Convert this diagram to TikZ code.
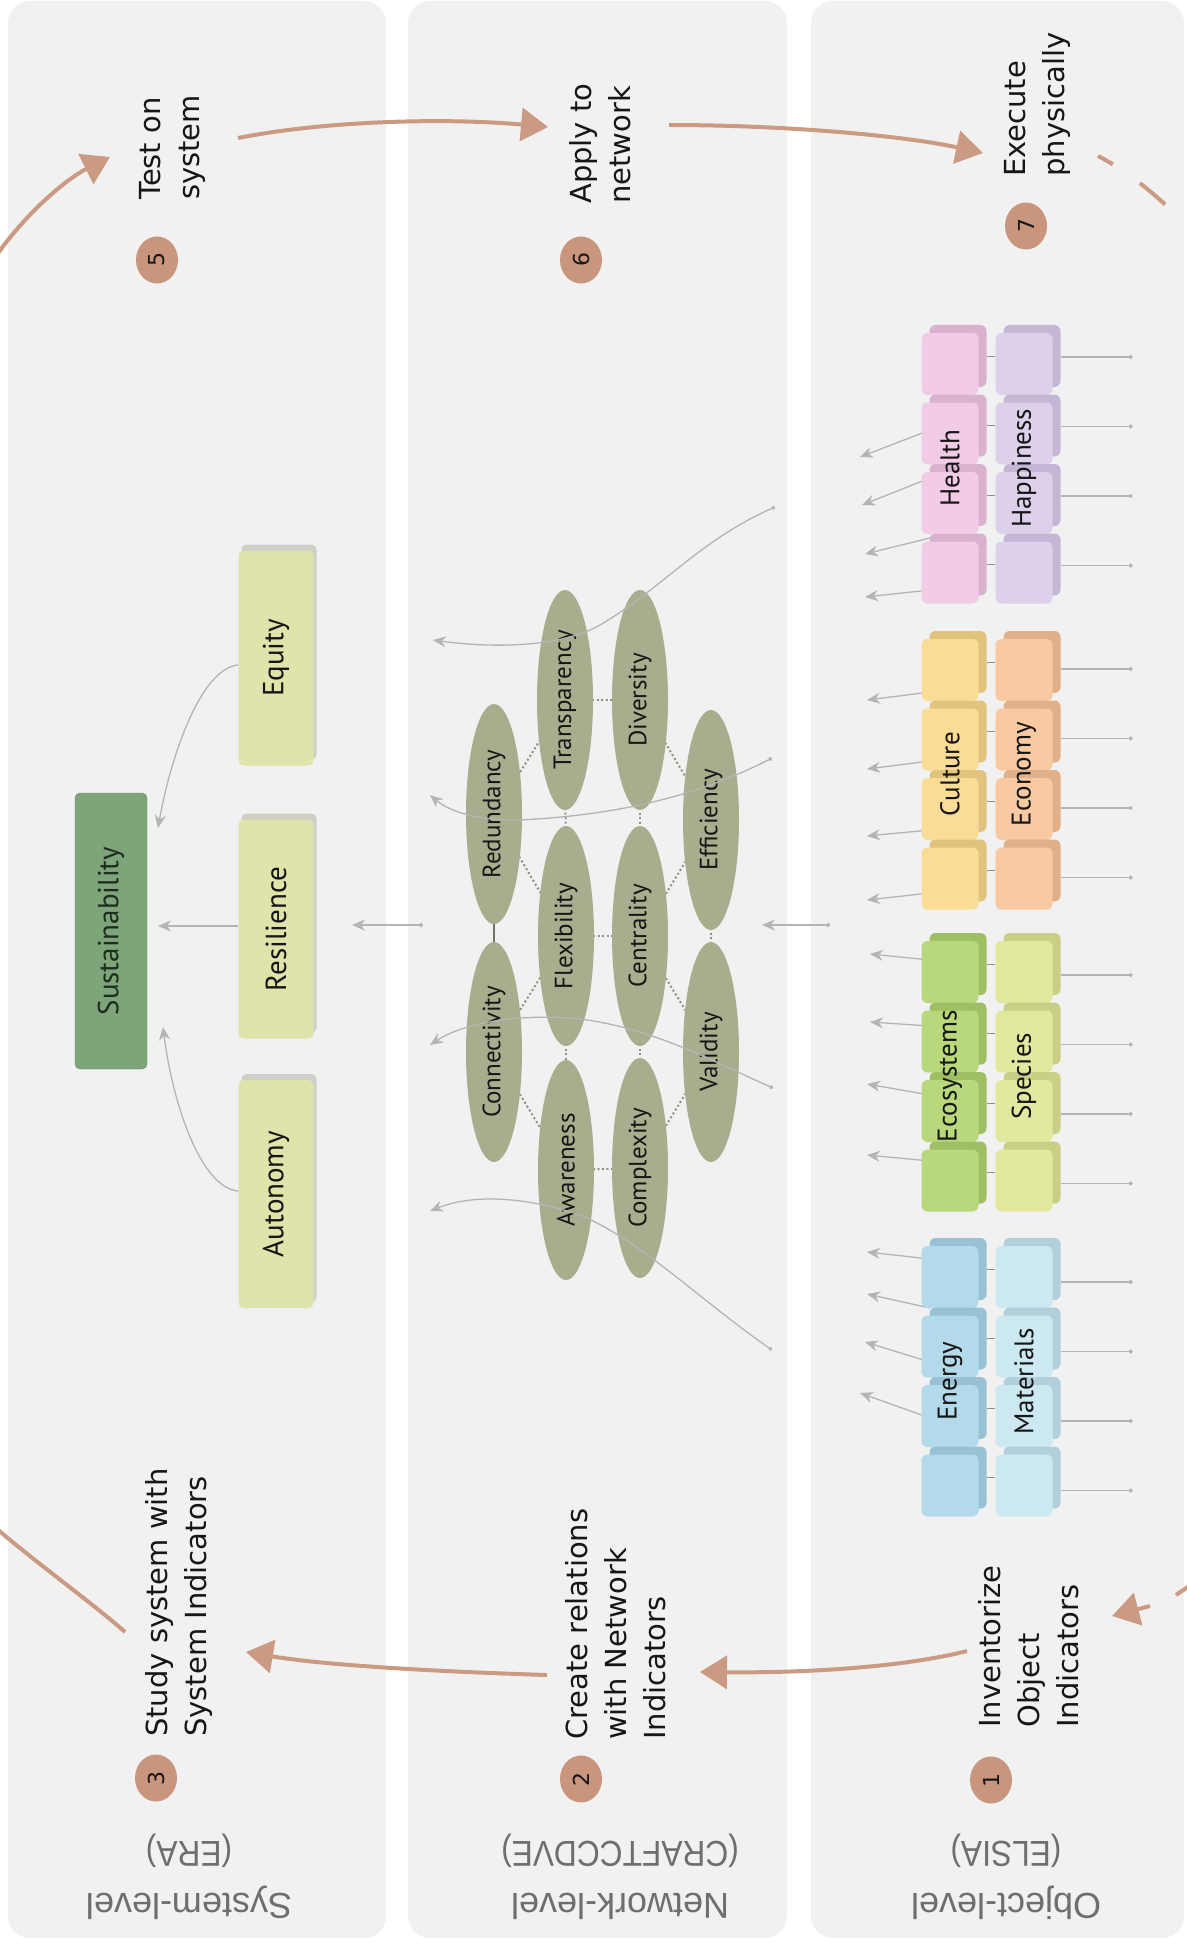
\documentclass[tikz,border=0pt]{standalone}
\usepackage{fontspec}
\setmainfont{DejaVu Sans}
\newfontfamily\lblfont{PT Sans}
\newfontfamily\levfont{Liberation Sans}
\newfontfamily\levcfont{Liberation Sans}[FakeStretch=0.88]
\usetikzlibrary{shapes.geometric,arrows.meta,shadows}
\definecolor{panelbg}{HTML}{F1F1F1}
\definecolor{stepbrown}{HTML}{C9957D}
\definecolor{arrowbrown}{HTML}{CA9A82}
\definecolor{stepink}{HTML}{161616}
\definecolor{levink}{HTML}{6E6E6E}
\definecolor{lgray}{HTML}{B4B4B4}
\definecolor{dotgray}{HTML}{8E917E}
\definecolor{susfill}{HTML}{7EA479}
\definecolor{susink}{HTML}{1E2E1E}
\definecolor{sysfill}{HTML}{DFE4AA}
\definecolor{sysshadow}{HTML}{CFCFC8}
\definecolor{ellfill}{HTML}{A8AE8D}
\definecolor{lblink}{HTML}{161616}
\definecolor{hlF}{HTML}{F2CBE6}\definecolor{hlB}{HTML}{D9B3CE}
\definecolor{hpF}{HTML}{DDD0EA}\definecolor{hpB}{HTML}{C4B7D6}
\definecolor{cuF}{HTML}{FADC97}\definecolor{cuB}{HTML}{E2C37E}
\definecolor{ecF}{HTML}{F9C9A1}\definecolor{ecB}{HTML}{E1AF88}
\definecolor{esF}{HTML}{B8D87B}\definecolor{esB}{HTML}{9EBF63}
\definecolor{spF}{HTML}{E2E89D}\definecolor{spB}{HTML}{C9CF84}
\definecolor{enF}{HTML}{B2DAEA}\definecolor{enB}{HTML}{98C1D3}
\definecolor{maF}{HTML}{CCE9F2}\definecolor{maB}{HTML}{B2D0DB}
\begin{document}
\begin{tikzpicture}[x=1pt,y=-1pt,
  steptext/.style={rotate=90, anchor=north west, align=left, inner sep=0pt, text=stepink, font=\fontsize{29}{39}\selectfont},
  stepnum/.style={ellipse, fill=stepbrown, minimum width=42pt, minimum height=47pt, inner sep=0pt, text=stepink, font=\fontsize{22}{22}\selectfont},
  bigarrow/.style={draw=arrowbrown, line width=4pt, -{Triangle[length=27pt,width=33pt]}},
  bigline/.style={draw=arrowbrown, line width=4pt},
  garrow/.style={draw=lgray, line width=1.3pt, -{Stealth[length=13pt,width=11pt]}},
  gdotarrow/.style={draw=lgray, line width=1.3pt, {Circle[length=4pt]}-{Stealth[length=13pt,width=11pt]}},
  gdotline/.style={draw=lgray, line width=1.3pt, -{Circle[length=4pt]}},
  gline/.style={draw=lgray!80!black, line width=1pt},
  levlab/.style={rotate=180, align=center, inner sep=0pt, text=levink, font=\levfont\fontsize{36}{52}\selectfont},
  susbox/.style={rectangle, rounded corners=5pt, fill=susfill, draw=susfill!85!black, minimum width=72pt, minimum height=276pt, inner sep=0pt, text=susink, font=\lblfont\fontsize{29}{29}\selectfont},
  sysbox/.style={rectangle, rounded corners=5pt, fill=sysfill, minimum width=75pt, inner sep=0pt, text=lblink, font=\lblfont\fontsize{29}{29}\selectfont, general shadow={fill=sysshadow, shadow xshift=3pt, shadow yshift=6pt}},
  ell/.style={ellipse, fill=ellfill, minimum width=56pt, minimum height=220pt, inner sep=0pt, text=lblink, font=\lblfont\fontsize{25}{25}\selectfont},
  edot/.style={draw=dotgray, line width=2pt, dash pattern=on 2pt off 2.5pt},
  objbox/.style={rectangle, rounded corners=6pt, minimum width=57pt, minimum height=62pt, inner sep=0pt},
  objlab/.style={inner sep=0pt, text=lblink, font=\lblfont\fontsize{27}{27}\selectfont}
]
\useasboundingbox (0,0) rectangle (1186,1950);
\fill[white] (0,0) rectangle (1186,1950);
% panels
\fill[panelbg, rounded corners=22pt] (8,1) rectangle (386,1938);
\fill[panelbg, rounded corners=22pt] (408,1) rectangle (787,1938);
\fill[panelbg, rounded corners=22pt] (811,1) rectangle (1184,1938);

% level labels
\node[levlab] (lv1) at (189,1877) {System-level\\{\levcfont (ERA)}};
\node[levlab] (lv2) at (620,1877) {Network-level\\{\levcfont (CRAFTCCDVE)}};
\node[levlab] (lv3) at (1006,1877) {Object-level\\{\levcfont (ELSIA)}};

% step numbers and texts
\node[stepnum] (n1) at (991,1780) {\rotatebox{90}{1}};
\node[stepnum] (n2) at (581,1779) {\rotatebox{90}{2}};
\node[stepnum] (n3) at (156,1778) {\rotatebox{90}{3}};
\node[stepnum] (n5) at (157,260) {\rotatebox{90}{5}};
\node[stepnum] (n6) at (581,260) {\rotatebox{90}{6}};
\node[stepnum] (n7) at (1026,226) {\rotatebox{90}{7}};
\node[steptext] (t1) at (978,1728) {Inventorize\\Object\\Indicators};
\node[steptext] (t2) at (565,1740) {Create relations\\with Network\\Indicators};
\node[steptext] (t3) at (145,1737) {Study system with\\System Indicators};
\node[steptext] (t5) at (139,200) {Test on\\system};
\node[steptext] (t6) at (569,204) {Apply to\\network};
\node[steptext] (t7) at (1004,177) {Execute\\physically};

% big brown arrows
\coordinate (a1s) at (967,1651); \coordinate (a1e) at (700,1672);
\draw[bigarrow] (a1s) .. controls (900,1668) and (800,1673) .. (a1e);
\coordinate (a2s) at (547,1675); \coordinate (a2e) at (246,1652);
\draw[bigarrow] (a2s) .. controls (450,1672) and (330,1666) .. (a2e);
\coordinate (a3s) at (125,1632); \coordinate (a3e) at (-4,1528);
\draw[bigline] (a3s) .. controls (95,1605) and (35,1562) .. (a3e);
\coordinate (a4s) at (-4,256); \coordinate (a4e) at (110,157);
\draw[bigarrow] (a4s) .. controls (30,208) and (70,177) .. (a4e);
\coordinate (a5s) at (238,138); \coordinate (a5e) at (548,127);
\draw[bigarrow] (a5s) .. controls (330,120) and (450,118) .. (a5e);
\coordinate (a6s) at (669,125); \coordinate (a6e) at (983,153);
\draw[bigarrow] (a6s) .. controls (780,125) and (900,135) .. (a6e);
\coordinate (a7s) at (1098,156); \coordinate (a7e) at (1205,245);
\draw[bigline, dash pattern=on 17pt off 33pt on 33pt off 200pt] (a7s) .. controls (1125,170) and (1160,195) .. (a7e);
\coordinate (a8s) at (1192,1584); \coordinate (a8m) at (1176,1595);
\draw[bigline] (a8s) -- (a8m);
\coordinate (a9s) at (1150,1606); \coordinate (a9e) at (1112,1616);
\draw[bigarrow] (a9s) -- (a9e);

% ---------- System level ----------
\node[susbox] (sus) at (111,931) {\rotatebox{90}{Sustainability}};
\node[sysbox, minimum height=215pt] (equ) at (276,658) {\rotatebox{90}{Equity}};
\node[sysbox, minimum height=219pt] (res) at (276,929) {\rotatebox{90}{Resilience}};
\node[sysbox, minimum height=228pt] (aut) at (276,1194) {\rotatebox{90}{Autonomy}};
\coordinate (sEq) at (158,828);
\coordinate (sRe) at (158,926);
\coordinate (sAu) at (163,1027);
\draw[garrow] ([yshift=-7pt]equ.west) .. controls (200,668) and (170,760) .. (sEq);
\draw[garrow] ([yshift=3pt]res.west) -- (sRe);
\draw[garrow] ([yshift=3pt]aut.west) .. controls (200,1188) and (172,1100) .. (sAu);
\coordinate (x1t) at (423,925); \coordinate (x1h) at (352,925);
\draw[gdotarrow] (x1t) -- (x1h);
\coordinate (x2t) at (830,925); \coordinate (x2h) at (762,925);
\draw[gdotarrow] (x2t) -- (x2h);

% ---------- Network level ----------
\coordinate (cred) at (494,814); \coordinate (ccon) at (494,1052);
\coordinate (ctra) at (565,700); \coordinate (cfle) at (566,936); \coordinate (cawa) at (566,1170);
\coordinate (cdiv) at (640,700); \coordinate (ccen) at (640,936); \coordinate (ccom) at (640,1168);
\coordinate (ceff) at (711,820); \coordinate (cval) at (711,1052);
\foreach \a/\b in {cred/ctra, cred/cfle, ccon/cfle, ccon/cawa, ctra/cdiv, cfle/ccen, cawa/ccom,
  cdiv/ceff, ccen/ceff, ccen/cval, ccom/cval, ctra/cfle, cdiv/ccen, cfle/cawa, ccen/ccom, ceff/cval}
  \draw[edot] (\a) -- (\b);
\draw[draw=dotgray!80!black, line width=2pt] (cred) -- (ccon);
\node[ell] (red) at (cred) {\rotatebox{90}{Redundancy}};
\node[ell] (con) at (ccon) {\rotatebox{90}{Connectivity}};
\node[ell] (tra) at (ctra) {\rotatebox{90}{Transparency}};
\node[ell] (fle) at (cfle) {\rotatebox{90}{Flexibility}};
\node[ell] (awa) at (cawa) {\rotatebox{90}{Awareness}};
\node[ell] (div) at (cdiv) {\rotatebox{90}{Diversity}};
\node[ell] (cen) at (ccen) {\rotatebox{90}{Centrality}};
\node[ell] (com) at (ccom) {\rotatebox{90}{Complexity}};
\node[ell] (eff) at (ceff) {\rotatebox{90}{Efficiency}};
\node[ell] (val) at (cval) {\rotatebox{90}{Validity}};
\coordinate (l1t) at (775,507); \coordinate (l1h) at (433,640);
\draw[gdotarrow] (l1t) .. controls (700,540) and (660,590) .. (600,625) .. controls (560,648) and (490,648) .. (l1h);
\coordinate (l2t) at (772,758); \coordinate (l2h) at (430,795);
\draw[gdotarrow] (l2t) .. controls (700,795) and (620,815) .. (520,820) .. controls (480,821) and (450,812) .. (l2h);
\coordinate (l3t) at (773,1088); \coordinate (l3h) at (430,1045);
\draw[gdotarrow] (l3t) .. controls (720,1065) and (650,1025) .. (570,1018) .. controls (510,1014) and (460,1025) .. (l3h);
\coordinate (l4t) at (772,1350); \coordinate (l4h) at (430,1211);
\draw[gdotarrow] (l4t) .. controls (700,1300) and (640,1240) .. (580,1215) .. controls (520,1195) and (470,1195) .. (l4h);

% ---------- Object level ----------
\foreach \g/\k/\ya/\xb/\yb in {1/1/430/860/457, 1/2/478/862/505, 1/3/538/865/554, 1/4/590/865/597,
  2/1/692/867/700, 2/2/761/867/769, 2/3/830/867/836, 2/4/893/867/900,
  3/1/960/870/954, 3/2/1026/870/1022, 3/3/1095/867/1084, 3/4/1161/867/1155,
  4/1/1259/867/1252, 4/2/1308/867/1294, 4/3/1362/865/1342, 4/4/1418/860/1393}{
  \coordinate (ot\g-\k) at (930,\ya);
  \coordinate (oh\g-\k) at (\xb,\yb);
  \draw[garrow] (ot\g-\k) -- (oh\g-\k);
}
\foreach \g/\gt/\lab/\rlab/\fl/\bl/\fr/\br/\rs in {1/333/Health/Happiness/hlF/hlB/hpF/hpB/1pt,
  2/639/Culture/Economy/cuF/cuB/ecF/ecB/7pt,
  3/941/Ecosystems/Species/esF/esB/spF/spB/11pt,
  4/1246/Energy/Materials/enF/enB/maF/maB/13pt}{
  \foreach \i in {0,1,2,3}{
    \pgfmathsetmacro\yt{\gt+69.5*\i}
    \node[objbox, fill=\bl] (LB\g-\i) at (958,\yt+23) {};
    \node[objbox, fill=\fl] (LF\g-\i) at (950,\yt+31) {};
    \node[objbox, fill=\br] (RB\g-\i) at (1032,\yt+23) {};
    \node[objbox, fill=\fr] (RF\g-\i) at (1024,\yt+31) {};
    \draw[gline] (LB\g-\i.east) -- (LB\g-\i.east -| RF\g-\i.west);
    \draw[gdotline] ([yshift=-\rs]RB\g-\i.east) -- ++(72,0);
  }
  \node[objlab] (LT\g) at (950,\gt+135.25) {\rotatebox{90}{\lab}};
  \node[objlab] (RT\g) at (1024,\gt+135.25) {\rotatebox{90}{\rlab}};
}
\end{tikzpicture}
\end{document}
